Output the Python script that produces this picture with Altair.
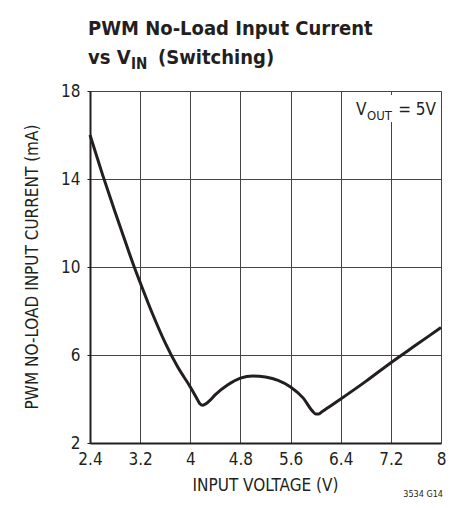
import altair as alt
import pandas as pd

# Data
vin = [2.4, 2.6, 2.8, 3.0, 3.1, 3.2, 3.4, 3.6, 3.8, 4.0, 4.1, 4.15, 4.2, 4.25, 4.3, 4.4,
       4.6, 4.8, 5.0, 5.2, 5.4, 5.6, 5.8, 5.95, 6.0, 6.05, 6.1, 6.4, 6.8, 7.2, 7.6, 8.0]
iin = [16.0, 14.2, 12.5, 10.85, 10.05, 9.3, 7.85, 6.55, 5.45, 4.55, 4.05, 3.8, 3.72, 3.78, 3.9, 4.2,
       4.65, 4.95, 5.05, 5.0, 4.85, 4.55, 4.05, 3.45, 3.32, 3.32, 3.42, 4.0, 4.8, 5.65, 6.45, 7.25]

x_ticks = [2.4, 3.2, 4.0, 4.8, 5.6, 6.4, 7.2, 8.0]
y_ticks = [2, 6, 10, 14, 18]

FONT = "'Liberation Sans Narrow', 'DejaVu Sans Condensed', 'Roboto Condensed', Roboto, sans-serif"
INK = "#231f20"

df = pd.DataFrame({"vin": vin, "iin": iin})

xs = alt.Scale(domain=[2.4, 8], nice=False, zero=False)
ys = alt.Scale(domain=[2, 18], nice=False, zero=False)

base = alt.Chart(df)

line = base.mark_line(color=INK, strokeWidth=3, interpolate="monotone").encode(
    x=alt.X("vin:Q", scale=xs,
            axis=alt.Axis(values=x_ticks, format=".1~f", title=None, grid=True,
                          gridColor="#444", gridWidth=1, domainColor=INK, domainWidth=2,
                          tickSize=0, labelPadding=8, labelFont=FONT, labelFontSize=17,
                          labelColor=INK, labelFlush=False)),
    y=alt.Y("iin:Q", scale=ys,
            axis=alt.Axis(values=y_ticks, title=None, grid=True,
                          gridColor="#444", gridWidth=1, domainColor=INK, domainWidth=2,
                          tickSize=3, tickColor=INK, labelPadding=7, labelFont=FONT,
                          labelFontSize=17, labelColor=INK, labelFlush=False)),
)

def txt(s, x, y, size, weight="normal", align="left", angle=0, baseline="alphabetic"):
    return alt.Chart(pd.DataFrame({"t": [s]})).mark_text(
        font=FONT, fontSize=size, fontWeight=weight, align=align, baseline=baseline,
        angle=angle, color=INK
    ).encode(x=alt.value(x), y=alt.value(y), text="t:N")

box = alt.Chart(pd.DataFrame({"a": [0]})).mark_rect(color="white").encode(
    x=alt.value(263), x2=alt.value(348), y=alt.value(4), y2=alt.value(31)
)

layers = [
    line,
    box,
    txt("V", 266, 24, 17),
    txt("OUT", 277, 29, 13),
    txt("= 5V", 346, 24, 17, align="right"),
    txt("PWM No-Load Input Current", -2, -56, 20, weight="bold"),
    txt("vs V", -2, -27, 20, weight="bold"),
    txt("IN", 41, -22, 15, weight="bold"),
    txt("(Switching)", 68, -27, 20, weight="bold"),
    txt("PWM NO-LOAD INPUT CURRENT (mA)", -57, 176, 17, angle=270, align="center",
        baseline="middle"),
    txt("INPUT VOLTAGE (V)", 175.5, 400, 17, align="center"),
    txt("3534 G14", 353, 406, 9, align="right"),
]

chart = alt.layer(*layers).properties(
    width=351, height=352,
    autosize=alt.AutoSizeParams(type="none"),
    padding={"left": 82, "top": 83, "right": 7, "bottom": 57},
).configure_view(stroke=INK, strokeWidth=1.5).configure(background="white")

chart.save("out.html", embed_options={"renderer": "svg", "actions": False})
